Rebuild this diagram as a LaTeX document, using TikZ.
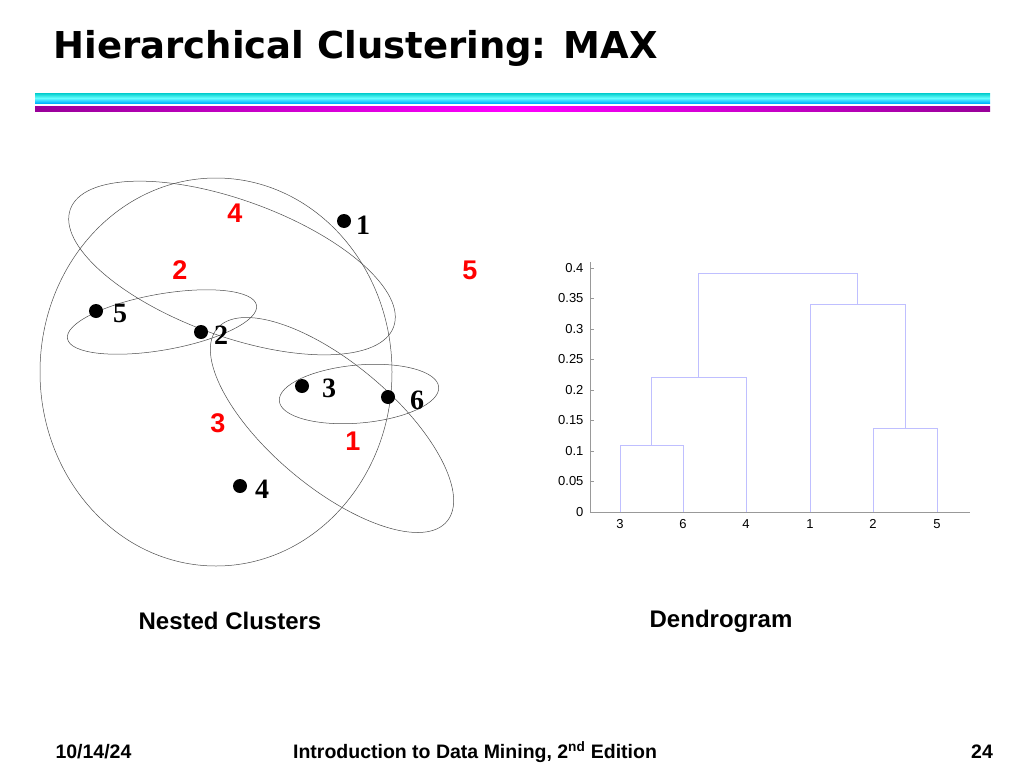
\documentclass[tikz,border=0pt]{standalone}
\usepackage{fontspec}
\setmainfont{Liberation Sans}
\newfontfamily\serifb{Liberation Serif}
\newfontfamily\titlefont{DejaVu Sans}
\begin{document}
\begin{tikzpicture}[x=1pt,y=-1pt,
 dot/.style={circle,fill=black,inner sep=0pt,minimum size=14pt},
 ptlab/.style={font=\serifb\bfseries\fontsize{28}{28}\selectfont},
 clab/.style={text=red,font=\bfseries\fontsize{27}{27}\selectfont},
 ell/.style={draw=black!70,line width=0.5pt},
 dend/.style={draw=blue!25,line width=0.7pt},
 ax/.style={draw=black!40,line width=0.5pt},
 tick/.style={font=\fontsize{13}{13}\selectfont},
 captext/.style={font=\bfseries\fontsize{24}{24}\selectfont},
 foot/.style={font=\bfseries\fontsize{19.5}{19.5}\selectfont}]
\useasboundingbox (0,0) rectangle (1024,768);
\node[anchor=west,font=\titlefont\bfseries\fontsize{37}{37}\selectfont] (title) at (50,48) {Hierarchical Clustering: MAX};
\shade[top color=cyan!60!teal,bottom color=cyan!70!blue,middle color=cyan!60] (35,93) rectangle (990,103);
\shade[left color=violet!80!magenta,right color=violet!80!magenta,middle color=magenta] (35,106) rectangle (990,111);
% clusters
\draw[ell] (216,372) ellipse [x radius=176,y radius=194];
\draw[ell] (232,268) ellipse [x radius=172,y radius=68,rotate=-20];
\draw[ell] (162,322) ellipse [x radius=96,y radius=28,rotate=10];
\draw[ell] (332,425) ellipse [x radius=150,y radius=62,rotate=-40];
\draw[ell] (359,394) ellipse [x radius=80,y radius=29,rotate=5];
\node[dot] (p1) at (344,221) {}; \node[ptlab] (l1) at (363,225) {1};
\node[dot] (p5) at (96,311) {}; \node[ptlab] (l5) at (120,313) {5};
\node[dot] (p2) at (201,332) {}; \node[ptlab] (l2) at (221,335) {2};
\node[dot] (p3) at (302,386) {}; \node[ptlab] (l3) at (329,388) {3};
\node[dot] (p6) at (388,397) {}; \node[ptlab] (l6) at (417,400) {6};
\node[dot] (p4) at (240,486) {}; \node[ptlab] (l4) at (262,489) {4};
\node[clab] (c4) at (235,213) {4};
\node[clab] (c2) at (180,270) {2};
\node[clab] (c5) at (470,270) {5};
\node[clab] (c3) at (218,423) {3};
\node[clab] (c1) at (353,441) {1};
% dendrogram
\draw[ax] (590,262) -- (590,512) -- (970,512);
\foreach \v/\t in {0/0,0.05/0.05,0.1/0.1,0.15/0.15,0.2/0.2,0.25/0.25,0.3/0.3,0.35/0.35,0.4/0.4}{
 \draw[ax] (590,{512-610*\v}) -- (594,{512-610*\v});
 \node[tick,anchor=east] at (587,{512-610*\v}) {\t};}
\foreach \x/\t in {620/3,683/6,746/4,810/1,873/2,937/5}{
 \draw[ax] (\x,512) -- (\x,508);
 \node[tick] at (\x,524) {\t};}
\draw[dend] (620,512) |- (683,445) -- (683,512);
\draw[dend] (651,445) |- (746,377) -- (746,512);
\draw[dend] (873,512) |- (937,428) -- (937,512);
\draw[dend] (810,512) |- (905,304) -- (905,428);
\draw[dend] (698,377) |- (857,273) -- (857,304);
\node[captext] (nc) at (230,621) {Nested Clusters};
\node[captext] (dg) at (721,621) {Dendrogram};
\node[foot,anchor=west] (date) at (52,752) {10/14/24};
\node[foot] (book) at (475,752) {Introduction to Data Mining, 2\textsuperscript{nd} Edition};
\node[foot] (pg) at (982,752) {24};
\end{tikzpicture}
\end{document}
